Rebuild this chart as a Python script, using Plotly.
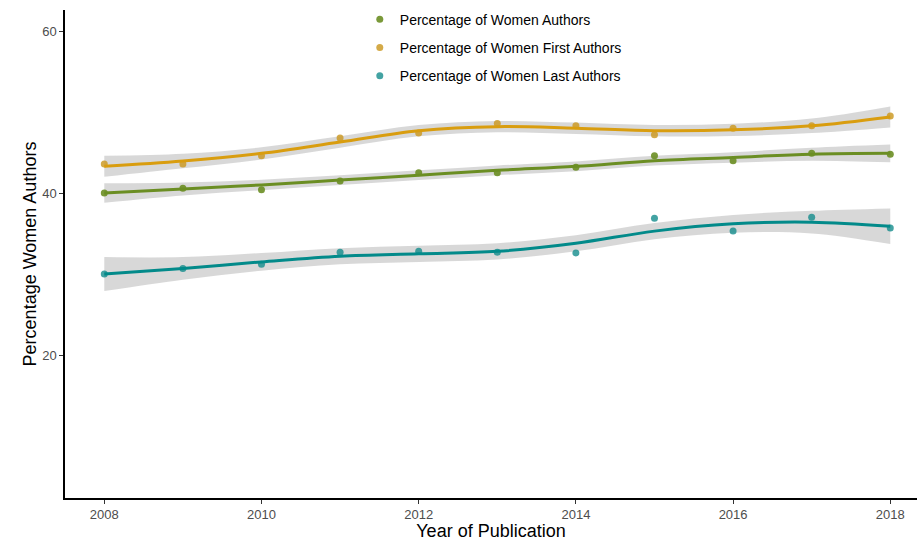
import plotly.graph_objects as go

years = [2008, 2009, 2010, 2011, 2012, 2013, 2014, 2015, 2016, 2017, 2018]

# observed points
women_authors = [40.0, 40.6, 40.4, 41.5, 42.5, 42.5, 43.2, 44.6, 44.0, 44.9, 44.8]
women_first = [43.6, 43.6, 44.6, 46.8, 47.4, 48.6, 48.3, 47.2, 48.0, 48.3, 49.5]
women_last = [30.0, 30.7, 31.2, 32.7, 32.8, 32.7, 32.6, 36.9, 35.3, 37.0, 35.7]

# smoothed (loess) curves
smooth_authors = [40.0, 40.5, 41.0, 41.6, 42.2, 42.8, 43.3, 44.0, 44.4, 44.8, 44.9]
smooth_first = [43.3, 43.95, 44.9, 46.3, 47.7, 48.2, 48.0, 47.7, 47.8, 48.3, 49.4]
smooth_last = [30.0, 30.7, 31.5, 32.2, 32.5, 32.8, 33.8, 35.3, 36.2, 36.4, 35.9]

# confidence ribbons
authors_lo = [38.8, 39.7, 40.35, 41.0, 41.6, 42.2, 42.7, 43.4, 43.75, 44.0, 43.8]
authors_hi = [41.2, 41.3, 41.65, 42.2, 42.8, 43.4, 43.9, 44.6, 45.05, 45.6, 46.0]
first_lo = [42.0, 43.05, 44.15, 45.6, 47.0, 47.5, 47.3, 47.0, 47.05, 47.4, 48.1]
first_hi = [44.6, 44.85, 45.65, 47.0, 48.4, 48.9, 48.7, 48.4, 48.55, 49.2, 50.7]
last_lo = [27.9, 29.3, 30.4, 31.2, 31.5, 31.8, 32.8, 34.3, 35.1, 35.0, 33.7]
last_hi = [32.1, 32.1, 32.6, 33.2, 33.5, 33.8, 34.8, 36.3, 37.3, 37.8, 38.1]

names = ["Percentage of Women Authors", "Percentage of Women First Authors",
         "Percentage of Women Last Authors"]
line_colors = ["#6B8E23", "#D99D0F", "#028A8A"]
point_colors = ["rgba(107,142,35,0.9)", "rgba(205,155,40,0.85)", "rgba(20,140,140,0.8)"]

points = [women_authors, women_first, women_last]
smooths = [smooth_authors, smooth_first, smooth_last]
los = [authors_lo, first_lo, last_lo]
his = [authors_hi, first_hi, last_hi]

fig = go.Figure()

for i in range(3):
    fig.add_trace(go.Scatter(x=years, y=his[i], mode="lines", line=dict(width=0, shape="spline"),
                             showlegend=False, hoverinfo="skip"))
    fig.add_trace(go.Scatter(x=years, y=los[i], mode="lines", line=dict(width=0, shape="spline"),
                             fill="tonexty", fillcolor="rgba(200,200,200,0.7)",
                             showlegend=False, hoverinfo="skip"))

for i in range(3):
    fig.add_trace(go.Scatter(x=years, y=points[i], mode="markers", name=names[i],
                             legendgroup=names[i],
                             marker=dict(size=7, color=point_colors[i])))
    fig.add_trace(go.Scatter(x=years, y=smooths[i], mode="lines", showlegend=False,
                             line=dict(color=line_colors[i], width=3, shape="spline", smoothing=1.0)))

fig.update_layout(
    width=918, height=541,
    margin=dict(l=65, r=1, t=10, b=43),
    plot_bgcolor="white", paper_bgcolor="white",
    font=dict(family="Liberation Sans, Arial, sans-serif", color="black"),
    showlegend=True,
    legend=dict(x=0.346, y=1.013, xanchor="left", yanchor="top",
                font=dict(size=14, color="black"), bgcolor="rgba(0,0,0,0)",
                traceorder="grouped", tracegroupgap=7, itemwidth=30),
    xaxis=dict(range=[2007.5, 2018.34], tickvals=[2008, 2010, 2012, 2014, 2016, 2018],
               automargin=False,
               showgrid=False, zeroline=False, showline=True, linecolor="black", linewidth=1.5,
               ticks="outside", ticklen=4, tickcolor="#333333",
               tickfont=dict(size=13, color="#4D4D4D"),
               title=dict(text="Year of Publication", font=dict(size=18, color="black"), standoff=4)),
    yaxis=dict(range=[2.35, 62.6], tickvals=[20, 40, 60],
               automargin=False,
               showgrid=False, zeroline=False, showline=True, linecolor="black", linewidth=1.5,
               ticks="outside", ticklen=4, tickcolor="#333333",
               tickfont=dict(size=13, color="#4D4D4D"),
               title=dict(text="Percentage Women Authors", font=dict(size=18, color="black"), standoff=1)),
)

fig.write_html("out.html", config={"displayModeBar": False},
               post_script="document.body.style.margin='0';")
